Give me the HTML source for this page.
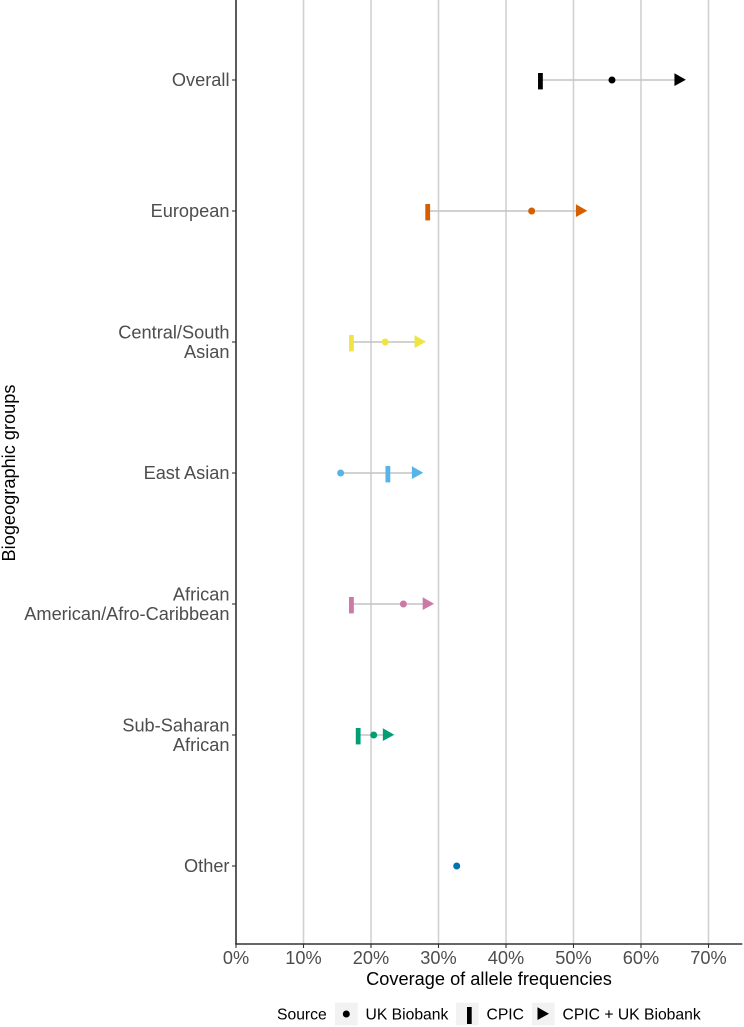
<!DOCTYPE html>
<html lang="en">
<head>
<meta charset="utf-8">
<title>Coverage of allele frequencies</title>
<style>
html,body{margin:0;padding:0;background:#fff;width:744px;height:1027px;overflow:hidden}
svg{display:block;font-family:"Liberation Sans",Arial,sans-serif}
</style>
</head>
<body>
<svg id="chart" width="744" height="1027" viewBox="0 0 744 1027" xmlns="http://www.w3.org/2000/svg">
  <g id="grid"></g>
  <g id="marks"></g>
  <g id="axes"></g>
  <text x="489" y="985" text-anchor="middle" font-size="18.2" fill="#000">Coverage of allele frequencies</text>
  <text transform="translate(15,473) rotate(-90)" text-anchor="middle" font-size="18.2" fill="#000">Biogeographic groups</text>
  <g>
    <text x="277" y="1019.7" font-size="15.7" fill="#000">Source</text>
    <rect x="335" y="1002.7" width="22.7" height="22.7" fill="#f2f2f2"/>
    <circle cx="346.3" cy="1014" r="3.5" fill="#000"/>
    <text x="365.5" y="1019.7" font-size="15.7" fill="#000">UK Biobank</text>
    <rect x="456" y="1002.7" width="22.7" height="22.7" fill="#f2f2f2"/>
    <rect x="467" y="1007" width="4.7" height="17" fill="#000"/>
    <text x="486.5" y="1019.7" font-size="15.7" fill="#000">CPIC</text>
    <rect x="532" y="1002.7" width="22.7" height="22.7" fill="#f2f2f2"/>
    <polygon points="537.5,1007.3 537.5,1020 549,1013.7" fill="#000"/>
    <text x="562.5" y="1019.7" font-size="15.7" fill="#000">CPIC + UK Biobank</text>
  </g>
</svg>
<script>
const categories = ["Overall", "European", "Central/South|Asian", "East Asian", "African|American/Afro-Caribbean", "Sub-Saharan|African", "Other"];
const colors = ["#000000", "#D55E00", "#F0E442", "#56B4E9", "#CC79A7", "#009E73", "#0072B2"];
const ukBiobank = [55.7, 43.8, 22.1, 15.5, 24.8, 20.4, 32.7];
const cpic = [45.1, 28.4, 17.1, 22.5, 17.1, 18.1, null];
const cpicPlusUk = [65.8, 51.2, 27.3, 26.9, 28.5, 22.6, null];
const xTicks = [0, 10, 20, 30, 40, 50, 60, 70];

const NS = "http://www.w3.org/2000/svg";
const xScale = v => 236 + v * 6.75;
const yScale = i => 80 + i * 131;
const X_MAX = 75;
const PLOT_TOP = 0;
const PLOT_BOTTOM = 944;

function mk(parent, tag, attrs, text) {
  const el = document.createElementNS(NS, tag);
  for (const k in attrs) el.setAttribute(k, attrs[k]);
  if (text !== undefined) el.textContent = text;
  parent.appendChild(el);
  return el;
}
const grid = document.getElementById("grid");
const marks = document.getElementById("marks");
const axes = document.getElementById("axes");

xTicks.forEach(t => {
  if (t > 0) {
    const line = mk(grid, "line", {x1: xScale(t), x2: xScale(t), y1: PLOT_TOP, y2: PLOT_BOTTOM, stroke: "#d1d1d1", "stroke-width": 1.6});
    
    
  }
  const tick = mk(axes, "line", {x1: xScale(t), x2: xScale(t), y1: PLOT_BOTTOM, y2: PLOT_BOTTOM + 4, stroke: "#333", "stroke-width": 1.1});
  
  
  const label = mk(axes, "text", {x: xScale(t), y: 964, "text-anchor": "middle", "font-size": 18.2, fill: "#4d4d4d"}, t + "%");
  
  
});

categories.forEach((c, i) => {
  const y = yScale(i);
  const color = colors[i];
  const tick = mk(axes, "line", {x1: 232, x2: 236, y1: y, y2: y, stroke: "#333", "stroke-width": 1.1});
  
  
  const parts = c.split("|");
  parts.forEach((p, j) => {
    const ly = y + 6.2 + (j - (parts.length - 1) / 2) * 19.6;
    const label = mk(axes, "text", {x: 229.5, y: ly, "text-anchor": "end", "font-size": 18.2, fill: "#4d4d4d"}, p);
    
    
  });

  const vals = [ukBiobank[i], cpic[i], cpicPlusUk[i]].filter(v => v !== null);
  if (vals.length > 1) {
    const seg = mk(marks, "line", {x1: xScale(Math.min(...vals)), x2: xScale(Math.max(...vals)), y1: y, y2: y, stroke: "#c4c4c4", "stroke-width": 1.6});
    
    
  }
  if (cpic[i] !== null) {
    const bar = mk(marks, "rect", {x: xScale(cpic[i]) - 2.4, y: y - 7, width: 4.8, height: 16.4, fill: color});
    
    
  }
  if (ukBiobank[i] !== null) {
    const dot = mk(marks, "circle", {cx: xScale(ukBiobank[i]), cy: y, r: 3.5, fill: color});
    
    
  }
  if (cpicPlusUk[i] !== null) {
    const tx = xScale(cpicPlusUk[i]);
    const tri = mk(marks, "polygon", {points: `${tx - 5.7},${y - 6.7} ${tx - 5.7},${y + 6} ${tx + 5.7},${y - 0.3}`, fill: color});
    
    
  }
});

const yAxis = mk(axes, "line", {x1: 236, x2: 236, y1: PLOT_TOP, y2: PLOT_BOTTOM + 0.6, stroke: "#333", "stroke-width": 1.6});


const xAxis = mk(axes, "line", {x1: 235.2, x2: xScale(X_MAX), y1: PLOT_BOTTOM, y2: PLOT_BOTTOM, stroke: "#333", "stroke-width": 1.6});


</script>
</body>
</html>
